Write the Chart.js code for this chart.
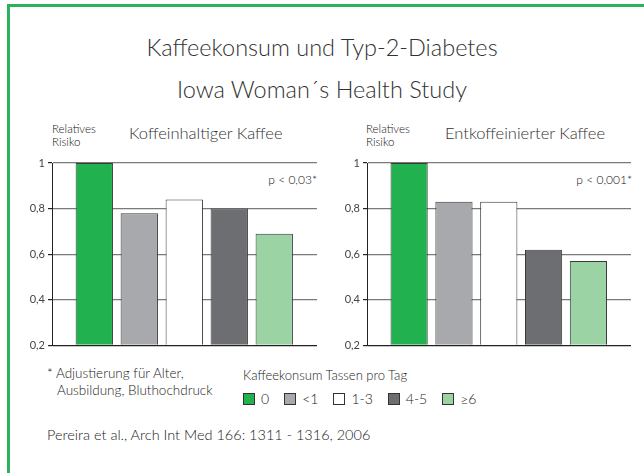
<!DOCTYPE html>
<html>
<head>
<meta charset="utf-8">
<script src="https://cdn.jsdelivr.net/npm/chart.js@4.4.1/dist/chart.umd.min.js"></script>
<style>
  body { margin: 0; background: #fff; font-family: Lato, "Noto Sans", sans-serif; color: #333; }
  #page { position: relative; width: 644px; height: 473px; overflow: hidden; }
  .frame { position: absolute; left: 7px; top: 4px; width: 660px; height: 500px;
           border-left: 3px solid #2bb25a; border-top: 3px solid #2bb25a; }
  .txt { position: absolute; white-space: nowrap; font-weight: 300; color: #1a1a1a; }
  .title { left: 0; width: 644px; text-align: center; font-size: 23.5px; line-height: 26px; color: #333; }
  .risk { font-size: 11.5px; line-height: 13px; color: #111; }
  .sub { font-size: 16.5px; line-height: 18px; color: #333; }
  .pval { font-size: 12px; line-height: 14px; text-align: right; color: #111; }
  .note { font-size: 13.5px; line-height: 17px; }
  canvas { position: absolute; }
  #legend { position: absolute; left: 243px; top: 391px; font-size: 14px; line-height: 16px; color: #1a1a1a; font-weight: 300; }
  #legend span.box { display: inline-block; width: 10px; height: 10px; border: 1px solid #333;
                     vertical-align: -1px; margin-right: 6px; }
  #legend span.item { margin-right: 15px; }
</style>
</head>
<body>
<div id="page">
  <div class="frame"></div>
  <div class="txt title" style="top:34px">Kaffeekonsum und Typ-2-Diabetes</div>
  <div class="txt title" style="top:76px">Iowa Woman´s Health Study</div>

  <div class="txt risk" style="left:52px; top:122px">Relatives<br>Risiko</div>
  <div class="txt sub" style="left:129px; top:124px">Koffeinhaltiger Kaffee</div>
  <div class="txt pval" style="left:217px; width:100px; top:173px">p &lt; 0,03*</div>

  <div class="txt risk" style="left:366px; top:122px">Relatives<br>Risiko</div>
  <div class="txt sub" style="left:445px; top:124px">Entkoffeinierter Kaffee</div>
  <div class="txt pval" style="left:532px; width:100px; top:173px">p &lt; 0,001*</div>

  <canvas id="chartCaf" width="312" height="205" style="left:10px; top:150px"></canvas>
  <canvas id="chartDecaf" width="311" height="205" style="left:325px; top:150px"></canvas>

  <div class="txt note" style="left:47px; top:365px">* Adjustierung für Alter,</div>
  <div class="txt note" style="left:57px; top:382px">Ausbildung, Bluthochdruck</div>
  <div class="txt note" style="left:243px; top:367px; font-size:13px">Kaffeekonsum Tassen pro Tag</div>
  <div id="legend"></div>

  <div class="txt" style="left:47px; top:426px; font-size:14.5px; line-height:18px">Pereira et al., Arch Int Med 166: 1311 - 1316, 2006</div>
</div>

<script>
// Tassen pro Tag
const categories = ['0', '<1', '1-3', '4-5', '≥6'];
// relatives Risiko
const caffeinated = [1.00, 0.78, 0.84, 0.80, 0.69];
const decaffeinated = [1.00, 0.83, 0.83, 0.62, 0.57];
const yTicks = [0.2, 0.4, 0.6, 0.8, 1];

const barColors = ['#22b14f', '#a7a9ac', '#ffffff', '#6d6e71', '#9cd3a5'];

// legende
const legend = document.getElementById('legend');
categories.forEach(function(cat, i) {
    const item = document.createElement('span');
    item.className = 'item';
    const box = document.createElement('span');
    box.className = 'box';
    box.style.background = barColors[i];
    item.appendChild(box);
    item.appendChild(document.createTextNode(cat));
    legend.appendChild(item);
});

function fmtTick(v) {
    return v === 1 ? '1' : v.toFixed(1).replace('.', ',');
}

function makeChart(id, values) {
    const ctx = document.getElementById(id).getContext('2d');
    return new Chart(ctx, {
        type: 'bar',
        data: {
            datasets: [{
                data: values.map(function(v, i) { return { x: i, y: v }; }),
                backgroundColor: barColors,
                borderColor: '#3a3a3a',
                borderWidth: 1,
                borderSkipped: 'bottom',
                base: yTicks[0],
                barPercentage: 0.83,
                categoryPercentage: 1
            }]
        },
        options: {
            responsive: false,
            animation: false,
            layout: { padding: { top: 13, right: 5, bottom: 5, left: 0 } },
            plugins: { legend: { display: false }, tooltip: { enabled: false } },
            scales: {
                x: {
                    type: 'linear',
                    display: false,
                    offset: false,
                    min: -0.94,
                    max: 4.95,
                    afterBuildTicks: function(scale) {
                        scale.ticks = categories.map(function(c, i) { return { value: i }; });
                    }
                },
                y: {
                    min: yTicks[0],
                    max: yTicks[yTicks.length - 1],
                    afterBuildTicks: function(scale) {
                        scale.ticks = yTicks.map(function(v) { return { value: v }; });
                    },
                    afterFit: function(scale) { scale.width = 42; },
                    border: { display: true, color: '#222', width: 1 },
                    grid: {
                        color: function(c) { return c.index === 0 ? '#222' : '#7a7a7a'; },
                        lineWidth: 1.2,
                        tickLength: 4,
                        tickColor: '#222'
                    },
                    ticks: {
                        padding: 3,
                        color: '#444',
                        font: { family: 'Lato', size: 11 },
                        callback: function(v) { return fmtTick(v); }
                    }
                }
            }
        }
    });
}

makeChart('chartCaf', caffeinated);
makeChart('chartDecaf', decaffeinated);
</script>
</body>
</html>
